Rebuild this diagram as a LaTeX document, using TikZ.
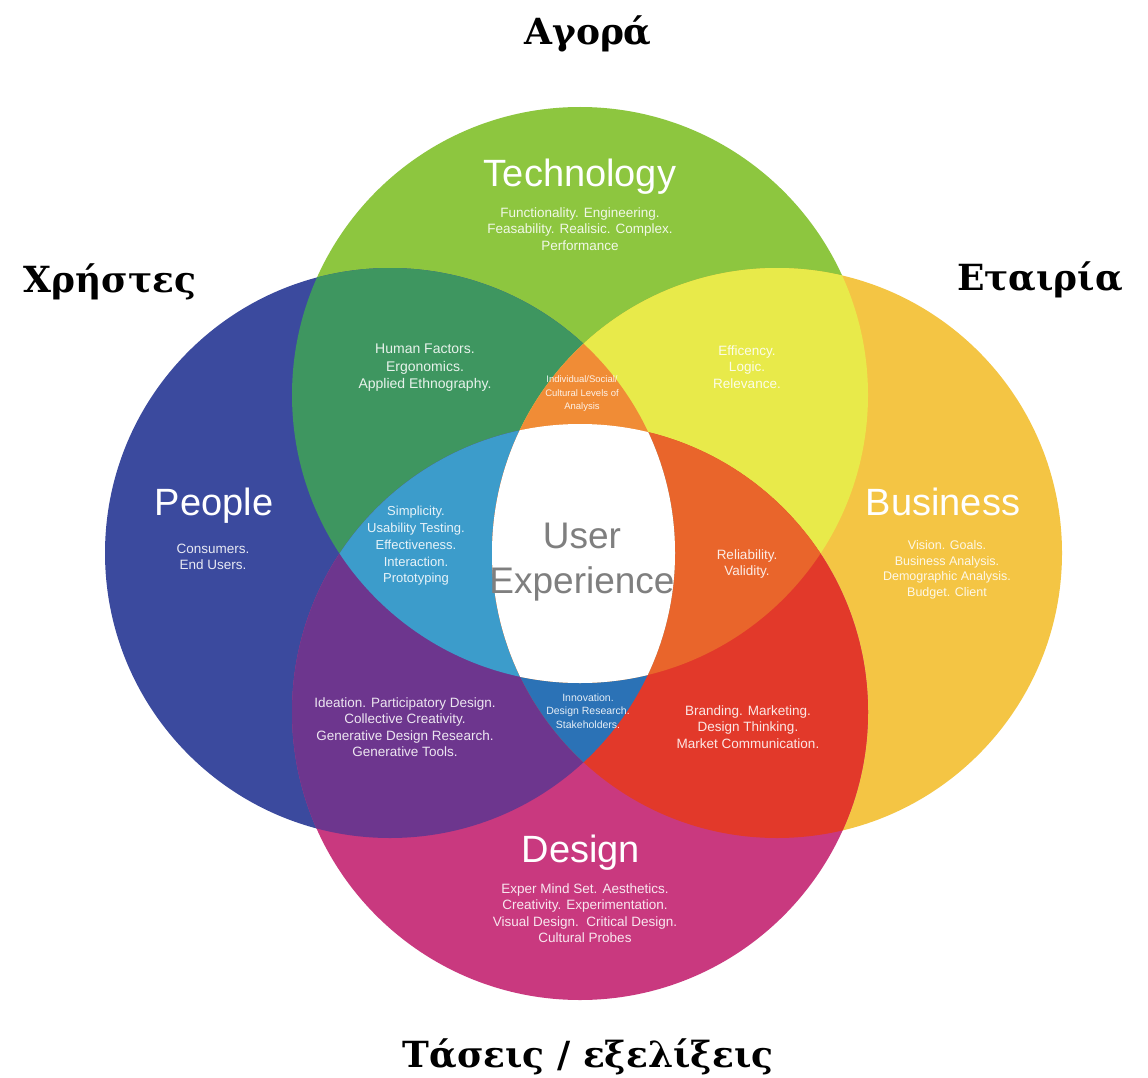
\documentclass[tikz,border=0pt]{standalone}
\usepackage{fontspec}
\setmainfont{Liberation Sans}
\newfontfamily\headfont{DejaVu Serif}
\definecolor{cTech}{HTML}{8DC63F}
\definecolor{cPeople}{HTML}{3B4A9E}
\definecolor{cBus}{HTML}{F4C544}
\definecolor{cDes}{HTML}{C9397F}
\definecolor{cPT}{HTML}{3E9660}
\definecolor{cTB}{HTML}{E8EA4A}
\definecolor{cPD}{HTML}{6D368E}
\definecolor{cBD}{HTML}{E2392A}
\definecolor{cPTD}{HTML}{3C9CCB}
\definecolor{cTBD}{HTML}{E9652B}
\definecolor{cPBD}{HTML}{2B72B6}
\definecolor{cPTB}{HTML}{F08C36}
\definecolor{cUX}{HTML}{7F7F7F}
\newcommand\pathP{(390,553) circle[radius=285pt]}
\newcommand\pathB{(777,553) circle[radius=285pt]}
\newcommand\pathT{(580,395) circle[radius=288pt]}
\newcommand\pathD{(580,712) circle[radius=288pt]}
\begin{document}
\begin{tikzpicture}[x=1pt,y=-1pt,
  title/.style={text=white,font=\fontsize{38}{44}\selectfont,anchor=base,inner sep=0pt},
  uxlabel/.style={text=cUX,font=\fontsize{37}{45}\selectfont,anchor=base,inner sep=0pt},
  heading/.style={font=\headfont\bfseries\fontsize{36}{42}\selectfont,anchor=base,inner sep=0pt},
  small/.style={text=white,text opacity=0.88,align=center,inner sep=0pt,font=\fontsize{13.5}{16.5}\selectfont},
  tiny/.style={small,font=\fontsize{9.5}{13.5}\selectfont}]
\useasboundingbox (0,0) rectangle (1148,1078);
\fill[white] (0,0) rectangle (1148,1078);
% single circles
\fill[cTech] \pathT;
\fill[cPeople] \pathP;
\fill[cBus] \pathB;
\fill[cDes] \pathD;
% pairs
\begin{scope}\clip \pathP; \fill[cPT] \pathT; \end{scope}
\begin{scope}\clip \pathT; \fill[cTB] \pathB; \end{scope}
\begin{scope}\clip \pathP; \fill[cPD] \pathD; \end{scope}
\begin{scope}\clip \pathB; \fill[cBD] \pathD; \end{scope}
% triples
\begin{scope}\clip \pathP; \clip \pathT; \fill[cPTD] \pathD; \end{scope}
\begin{scope}\clip \pathT; \clip \pathB; \fill[cTBD] \pathD; \end{scope}
\begin{scope}\clip \pathP; \clip \pathB; \fill[cPBD] \pathD; \end{scope}
\begin{scope}\clip \pathP; \clip \pathT; \fill[cPTB] \pathB; \end{scope}
% all four
\begin{scope}\clip \pathP; \clip \pathT; \clip \pathB; \fill[white] \pathD; \end{scope}

% titles
\node[title] (tTech) at (580,186) {Technology};
\node[title] (tPeople) at (214,515) {People};
\node[title] (tBus) at (943,515) {Business};
\node[title] (tDes) at (581,862) {Design};
\node[uxlabel] (ux1) at (582,548) {User};
\node[uxlabel] (ux2) at (582,593) {Experience};

% descriptions
\node[small] (dTech) at (580,229) {Functionality. Engineering.\\Feasability. Realisic. Complex.\\Performance};
\node[small] (dPeople) at (213,557) {Consumers.\\End Users.};
\node[small,font=\fontsize{12.5}{15.5}\selectfont] (dBus) at (947,570) {Vision. Goals.\\Business Analysis.\\Demographic Analysis.\\Budget. Client};
\node[small] (dDes) at (585,913) {Exper Mind Set. Aesthetics.\\Creativity. Experimentation.\\Visual Design.\ \ Critical Design.\\Cultural Probes};
\node[small,font=\fontsize{14}{17.5}\selectfont] (dPT) at (425,368) {Human Factors.\\Ergonomics.\\Applied Ethnography.};
\node[tiny] (dPTB) at (582,394) {Individual/Social/\\Cultural Levels of\\Analysis};
\node[small] (dTB) at (747,367) {Efficency.\\Logic.\\Relevance.};
\node[small,font=\fontsize{13}{16.75}\selectfont] (dPTD) at (416,546) {Simplicity.\\Usability Testing.\\Effectiveness.\\Interaction.\\Prototyping};
\node[small] (dTBD) at (747,564) {Reliability.\\Validity.};
\node[small] (dPD) at (405,727) {Ideation. Participatory Design.\\Collective Creativity.\\Generative Design Research.\\Generative Tools.};
\node[tiny,font=\fontsize{10.5}{13.5}\selectfont] (dPBD) at (588,711) {Innovation.\\Design Research.\\Stakeholders.};
\node[small] (dBD) at (748,727) {Branding. Marketing.\\Design Thinking.\\Market Communication.};

% Greek headings
\node[heading] (hTop) at (588,45) {Αγορά};
\node[heading] (hLeft) at (110,292) {Χρήστες};
\node[heading] (hRight) at (1040,290) {Εταιρία};
\node[heading] (hBottom) at (588,1067) {Τάσεις / εξελίξεις};
\end{tikzpicture}
\end{document}
